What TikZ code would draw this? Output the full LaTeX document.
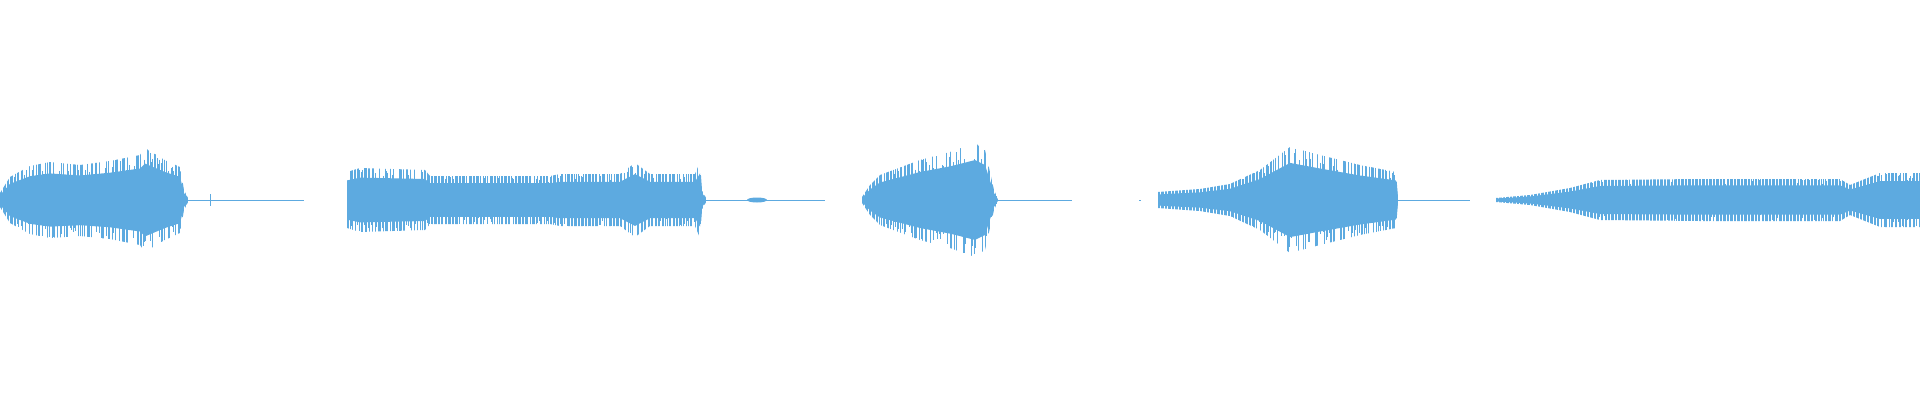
\documentclass[tikz,border=0pt]{standalone}
\definecolor{wave}{HTML}{5DAAE0}
\tikzset{flat/.style={draw=wave,line width=1pt}}
\newcommand\envA{(0,193)--(10,177)--(30,166)--(50,162)--(80,165)--(110,161)--(140,155)--(145,148)--(165,160)--(180,167)--(184,190)--(188,198)--(188,202)--(184,210)--(180,233)--(165,240)--(145,252)--(140,245)--(110,239)--(80,236)--(50,238)--(30,234)--(10,223)--(0,207)--cycle}
\newcommand\envB{(347,172)--(360,168)--(425,170)--(430,176)--(550,176)--(560,174)--(620,174)--(635,163)--(650,174)--(695,174)--(700,162)--(702,190)--(706,198)--(706,202)--(702,210)--(700,238)--(695,226)--(650,226)--(635,237)--(620,226)--(560,226)--(550,224)--(430,224)--(425,230)--(360,232)--(347,228)--cycle}
\newcommand\envC{(862,197)--(870,185)--(880,175)--(920,160)--(950,152)--(975,143)--(985,150)--(994,190)--(998,199)--(998,201)--(994,210)--(985,250)--(975,257)--(950,248)--(920,240)--(880,225)--(870,215)--(862,203)--cycle}
\newcommand\envD{(1158,192)--(1200,189)--(1230,184)--(1260,170)--(1290,147)--(1320,155)--(1360,165)--(1396,172)--(1398,198)--(1398,202)--(1396,228)--(1360,235)--(1320,245)--(1290,253)--(1260,230)--(1230,216)--(1200,211)--(1158,208)--cycle}
\newcommand\envE{(1496,198)--(1530,195)--(1570,188)--(1600,180)--(1700,179)--(1840,179)--(1850,185)--(1880,173)--(1920,173)--(1920,227)--(1880,227)--(1850,215)--(1840,221)--(1700,221)--(1600,220)--(1570,212)--(1530,205)--(1496,202)--cycle}
\newcommand\wav[3]{% env, start, end
\begin{scope}\clip #1;
 \begin{scope}[shift={(0,200)},yscale=0.7,shift={(0,-200)}]\fill[wave] #1;\end{scope}
 \pgfmathtruncatemacro\nn{(#3-#2)/1.4}
 \foreach \i in {0,...,\nn}{
   \pgfmathsetmacro\xx{#2+1.4*\i}
   \pgfmathsetmacro\hh{15+45*rnd}
   \pgfmathsetmacro\hb{15+45*rnd}
   \draw[wave,line width=0.5pt] (\xx,200-\hh) -- (\xx,200+\hb);
 }
\end{scope}}
\begin{document}
\begin{tikzpicture}[x=1pt,y=-1pt]
\useasboundingbox (0,0) rectangle (1920,400);
\pgfmathsetseed{11}
\wav{\envA}{0}{188}
\draw[flat] (184,200) -- (304,200);
\draw[flat] (210,194) -- (210,206);
\wav{\envB}{347}{706}
\draw[flat] (702,200) -- (825,200);
\fill[wave] (757,200) ellipse (10 and 2.5);
\wav{\envC}{862}{998}
\draw[flat] (994,200) -- (1072,200);
\draw[flat] (1139,200) -- (1141,200);
\wav{\envD}{1158}{1398}
\draw[flat] (1396,200) -- (1470,200);
\wav{\envE}{1496}{1920}
\end{tikzpicture}
\end{document}
